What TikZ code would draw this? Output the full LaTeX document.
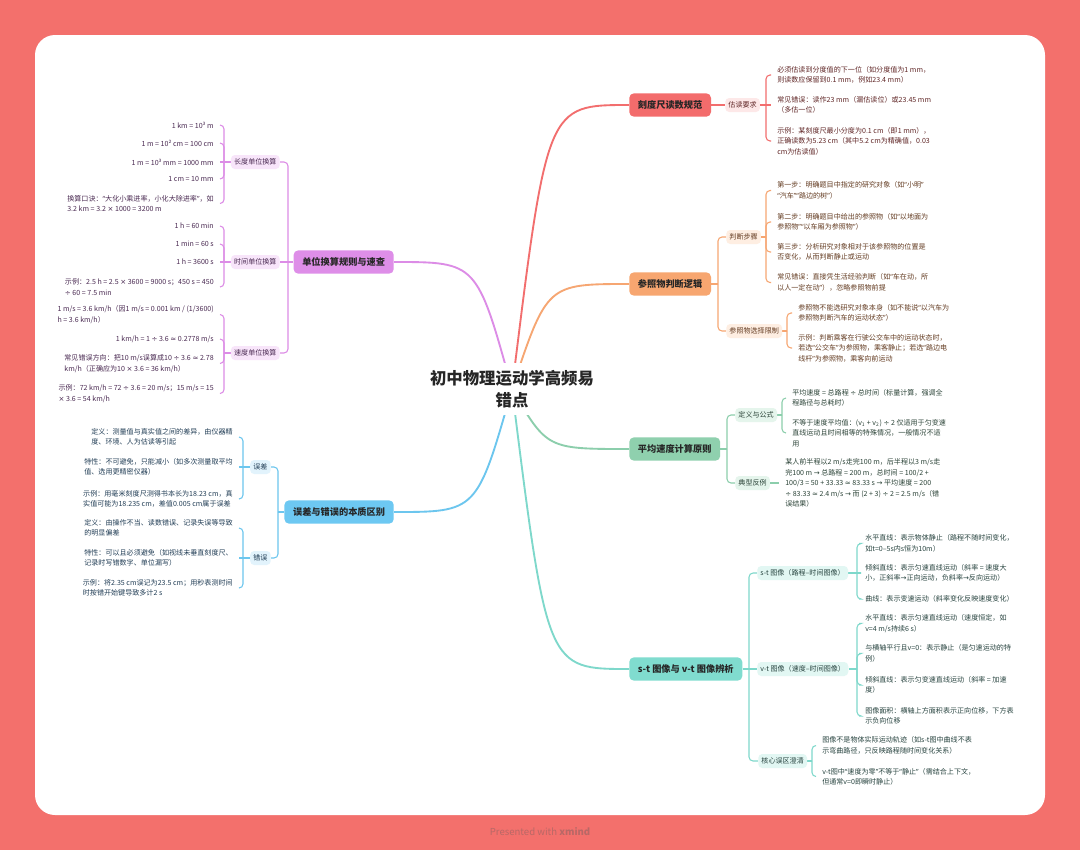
\documentclass[tikz,border=0pt]{standalone}
\usepackage{fontspec}
\setmainfont{Noto Sans CJK SC}
\newfontfamily\qfont{Noto Sans}
\newfontfamily\symf{DejaVu Sans}
\newcommand{\qo}{{\qfont “}}
\newcommand{\qc}{{\qfont ”}}
\newcommand{\sy}[1]{{\symf #1}}
\usetikzlibrary{calc}
\definecolor{bgc}{RGB}{243,112,108}
\definecolor{ftc}{RGB}{184,104,102}
\definecolor{rL}{RGB}{242,110,110}
\definecolor{rF}{RGB}{243,108,108}
\definecolor{rS}{RGB}{253,232,232}
\definecolor{rT}{RGB}{96,38,38}
\definecolor{oL}{RGB}{246,166,114}
\definecolor{oF}{RGB}{247,166,112}
\definecolor{oS}{RGB}{254,238,226}
\definecolor{oT}{RGB}{100,60,34}
\definecolor{gL}{RGB}{140,206,172}
\definecolor{gF}{RGB}{143,208,174}
\definecolor{gS}{RGB}{229,245,236}
\definecolor{gT}{RGB}{44,68,56}
\definecolor{tL}{RGB}{126,216,203}
\definecolor{tF}{RGB}{128,220,207}
\definecolor{tS}{RGB}{226,247,243}
\definecolor{tT}{RGB}{40,68,64}
\definecolor{pL}{RGB}{220,140,230}
\definecolor{pF}{RGB}{222,142,232}
\definecolor{pS}{RGB}{248,229,250}
\definecolor{pT}{RGB}{74,42,82}
\definecolor{bL}{RGB}{108,198,238}
\definecolor{bF}{RGB}{109,200,242}
\definecolor{bS}{RGB}{226,243,252}
\definecolor{bT}{RGB}{34,62,86}
\pgfdeclarelayer{card}
\pgfdeclarelayer{wires}
\pgfsetlayers{card,wires,main}
\begin{document}
\begin{tikzpicture}[x=0.75pt,y=-0.75pt,
  rootbox/.style={fill=white, inner sep=5pt, align=center, text=black!85,
    font=\bfseries\fontsize{12.3}{16.5}\selectfont},
  mainbox/.style={rounded corners=3.5pt, minimum height=17.5pt, inner xsep=6.5pt,
    inner ysep=0pt, fill=#1F, text=black!85, font=\bfseries\fontsize{6.9}{8}\selectfont},
  subb/.style={rounded corners=3pt, minimum height=10.5pt, inner xsep=2.4pt,
    inner ysep=0pt, fill=#1S, text=#1T, font=\fontsize{5.3}{6.5}\selectfont},
  leafr/.style={anchor=west, align=left, inner xsep=4.5pt, inner ysep=0pt,
    text=#1T, font=\fontsize{5.3}{7.8}\selectfont},
  leafl/.style={anchor=east, align=left, inner xsep=4.5pt, inner ysep=0pt,
    text=#1T, font=\fontsize{5.3}{7.8}\selectfont},
  trunkw/.style={draw=#1L, line width=1.4pt},
  wire/.style={draw=#1L, line width=0.8pt, rounded corners=3pt},
  footer/.style={text=ftc, font=\fontsize{7.2}{9}\selectfont}]
\useasboundingbox (0,0) rectangle (1080,850);
\begin{pgfonlayer}{card}
\fill[bgc] (0,0) rectangle (1080,850);
\fill[white, rounded corners=15pt] (35,35) rectangle (1045,815);
\end{pgfonlayer}

\node[footer] (ft) at (540,832) {Presented with \textbf{xmind}};
\node[rootbox] (root) at (512,389) {初中物理运动学高频易\\错点};

% ---------- red: 刻度尺读数规范
\node[mainbox=r, anchor=west] (kd) at (629,105) {刻度尺读数规范};
\node[subb=r, anchor=west] (kd1) at (725,105) {估读要求};
\coordinate (kdj) at (766,105);
\node[leafr=r] (kdA) at (771,75) {必须估读到分度值的下一位（如分度值为1 mm，\\则读数应保留到0.1 mm，例如23.4 mm）};
\node[leafr=r] (kdB) at (771,105) {常见错误：读作23 mm（漏估读位）或23.45 mm\\（多估一位）};
\node[leafr=r] (kdC) at (771,141) {示例：某刻度尺最小分度为0.1 cm（即1 mm），\\正确读数为5.23 cm（其中5.2 cm为精确值，0.03\\cm为估读值）};

% ---------- orange: 参照物判断逻辑
\node[mainbox=o, anchor=west] (ck) at (629,284) {参照物判断逻辑};
\coordinate (ckj) at (718,284);
\node[subb=o, anchor=west] (ck1) at (726,237) {判断步骤};
\node[subb=o, anchor=west] (ck2) at (726,331) {参照物选择限制};
\coordinate (ck1j) at (766,237);
\coordinate (ck2j) at (787,331);
\node[leafr=o] (ckA) at (771,190.5) {第一步：明确题目中指定的研究对象（如\qo 小明\qc\\\qo 汽车\qc\qo 路边的树\qc）};
\node[leafr=o] (ckB) at (771,222) {第二步：明确题目中给出的参照物（如\qo 以地面为\\参照物\qc\qo 以车厢为参照物\qc）};
\node[leafr=o] (ckC) at (771,252) {第三步：分析研究对象相对于该参照物的位置是\\否变化，从而判断静止或运动};
\node[leafr=o] (ckD) at (771,282.5) {常见错误：直接凭生活经验判断（如\qo 车在动，所\\以人一定在动\qc），忽略参照物前提};
\node[leafr=o] (ckE) at (792,313) {参照物不能选研究对象本身（如不能说\qo 以汽车为\\参照物判断汽车的运动状态\qc）};
\node[leafr=o] (ckF) at (792,348) {示例：判断乘客在行驶公交车中的运动状态时，\\若选\qo 公交车\qc 为参照物，乘客静止；若选\qo 路边电\\线杆\qc 为参照物，乘客向前运动};

% ---------- green: 平均速度计算原则
\node[mainbox=g, anchor=west] (pj) at (629,449) {平均速度计算原则};
\coordinate (pjj) at (727,449);
\node[subb=g, anchor=west] (pj1) at (735,415) {定义与公式};
\node[subb=g, anchor=west] (pj2) at (735,483) {典型反例};
\coordinate (pj1j) at (782,415);
\node[leafr=g] (pjA) at (786,398) {平均速度 = 总路程 \sy{÷} 总时间（标量计算，强调全\\程路径与总耗时）};
\node[leafr=g] (pjB) at (786,433) {不等于速度平均值：(v\textsubscript{1} + v\textsubscript{2}) \sy{÷} 2 仅适用于匀变速\\直线运动且时间相等的特殊情况，一般情况不适\\用};
\node[leafr=g] (pjC) at (779,483) {某人前半程以2 m/s走完100 m，后半程以3 m/s走\\完100 m \sy{→} 总路程 = 200 m，总时间 = 100/2 +\\100/3 = 50 + 33.33 \sy{≈} 83.33 s \sy{→} 平均速度 = 200\\\sy{÷} 83.33 \sy{≈} 2.4 m/s \sy{→} 而 (2 + 3) \sy{÷} 2 = 2.5 m/s（错\\误结果）};

% ---------- teal: s-t 图像与 v-t 图像辨析
\node[mainbox=t, anchor=west] (st) at (629,669) {s-t 图像与 v-t 图像辨析};
\coordinate (stj) at (749,669);
\node[subb=t, anchor=west] (st1) at (757,573) {s-t 图像（路程–时间图像）};
\node[subb=t, anchor=west] (st2) at (757,669) {v-t 图像（速度–时间图像）};
\node[subb=t, anchor=west] (st3) at (758,761) {核心误区澄清};
\coordinate (st1j) at (857,573);
\coordinate (st2j) at (857,669);
\coordinate (st3j) at (812,761);
\node[leafr=t] (stA) at (859,543.5) {水平直线：表示物体静止（路程不随时间变化，\\如t=0–5s内s恒为10m）};
\node[leafr=t] (stB) at (859,573) {倾斜直线：表示匀速直线运动（斜率 = 速度大\\小，正斜率\sy{→}正向运动，负斜率\sy{→}反向运动）};
\node[leafr=t] (stC) at (859,599) {曲线：表示变速运动（斜率变化反映速度变化）};
\node[leafr=t] (stD) at (859,623.5) {水平直线：表示匀速直线运动（速度恒定，如\\v=4 m/s持续6 s）};
\node[leafr=t] (stE) at (859,653.5) {与横轴平行且v=0：表示静止（是匀速运动的特\\例）};
\node[leafr=t] (stF) at (859,685) {倾斜直线：表示匀变速直线运动（斜率 = 加速\\度）};
\node[leafr=t] (stG) at (859,716) {图像面积：横轴上方面积表示正向位移，下方表\\示负向位移};
\node[leafr=t] (stH) at (816,745.5) {图像不是物体实际运动轨迹（如s-t图中曲线不表\\示弯曲路径，只反映路程随时间变化关系）};
\node[leafr=t] (stI) at (816,776.5) {v-t图中\qo 速度为零\qc 不等于\qo 静止\qc（需结合上下文，\\但通常v=0即瞬时静止）};

% ---------- purple: 单位换算规则与速查
\node[mainbox=p, anchor=east] (dw) at (394,262) {单位换算规则与速查};
\coordinate (dwj) at (288,262);
\node[subb=p, anchor=east] (dw1) at (280,162) {长度单位换算};
\node[subb=p, anchor=east] (dw2) at (280,262) {时间单位换算};
\node[subb=p, anchor=east] (dw3) at (280,353) {速度单位换算};
\coordinate (dw1j) at (224,162);
\coordinate (dw2j) at (224,262);
\coordinate (dw3j) at (224,353);
\node[leafl=p] (dwA) at (220,125) {1 km = 10³ m};
\node[leafl=p] (dwB) at (220,143) {1 m = 10² cm = 100 cm};
\node[leafl=p] (dwC) at (220,162) {1 m = 10³ mm = 1000 mm};
\node[leafl=p] (dwD) at (220,179) {1 cm = 10 mm};
\node[leafl=p] (dwE) at (220,203.5) {换算口诀：\qo 大化小乘进率，小化大除进率\qc，如\\3.2 km = 3.2 \sy{×} 1000 = 3200 m};
\node[leafl=p] (dwF) at (220,226) {1 h = 60 min};
\node[leafl=p] (dwG) at (220,244) {1 min = 60 s};
\node[leafl=p] (dwH) at (220,262) {1 h = 3600 s};
\node[leafl=p] (dwI) at (220,287) {示例：2.5 h = 2.5 \sy{×} 3600 = 9000 s；450 s = 450\\\sy{÷} 60 = 7.5 min};
\node[leafl=p] (dwJ) at (220,314.5) {1 m/s = 3.6 km/h（因1 m/s = 0.001 km / (1/3600)\\h = 3.6 km/h）};
\node[leafl=p] (dwK) at (220,339) {1 km/h = 1 \sy{÷} 3.6 \sy{≈} 0.2778 m/s};
\node[leafl=p] (dwL) at (220,363.5) {常见错误方向：把10 m/s误算成10 \sy{÷} 3.6 \sy{≈} 2.78\\km/h（正确应为10 \sy{×} 3.6 = 36 km/h）};
\node[leafl=p] (dwM) at (220,393.5) {示例：72 km/h = 72 \sy{÷} 3.6 = 20 m/s；15 m/s = 15\\\sy{×} 3.6 = 54 km/h};

% ---------- blue: 误差与错误的本质区别
\node[mainbox=b, anchor=east] (wc) at (394,512) {误差与错误的本质区别};
\coordinate (wcj) at (278,512);
\node[subb=b, anchor=east] (wc1) at (271,467) {误差};
\node[subb=b, anchor=east] (wc2) at (271,558) {错误};
\coordinate (wc1j) at (243,467);
\coordinate (wc2j) at (243,558);
\node[leafl=b] (wcA) at (239,437) {定义：测量值与真实值之间的差异，由仪器精\\度、环境、人为估读等引起};
\node[leafl=b] (wcB) at (239,467) {特性：不可避免，只能减小（如多次测量取平均\\值、选用更精密仪器）};
\node[leafl=b] (wcC) at (239,499) {示例：用毫米刻度尺测得书本长为18.23 cm，真\\实值可能为18.235 cm，差值0.005 cm属于误差};
\node[leafl=b] (wcD) at (239,528) {定义：由操作不当、读数错误、记录失误等导致\\的明显偏差};
\node[leafl=b] (wcE) at (239,558) {特性：可以且必须避免（如视线未垂直刻度尺、\\记录时写错数字、单位漏写）};
\node[leafl=b] (wcF) at (239,588) {示例：将2.35 cm误记为23.5 cm；用秒表测时间\\时按错开始键导致多计2 s};

\begin{pgfonlayer}{wires}
% root to main branches
\draw[trunkw=r] (root.center) .. controls (547,105) .. (kd.west);
\draw[trunkw=o] (root.center) .. controls (547,284) .. (ck.west);
\draw[trunkw=g] (root.center) .. controls (547,449) .. (pj.west);
\draw[trunkw=t] (root.center) .. controls (547,669) .. (st.west);
\draw[trunkw=p] (root.center) .. controls (477,262) .. (dw.east);
\draw[trunkw=b] (root.center) .. controls (477,512) .. (wc.east);
% red
\draw[wire=r] (kd.east) -- (kd1.west);
\draw[wire=r] (kd1.east) -- (kdj) -- (kdB.west);
\draw[wire=r] (kdj) |- (kdA.west);
\draw[wire=r] (kdj) |- (kdC.west);
% orange
\draw[wire=o] (ck.east) -- (ckj);
\draw[wire=o] (ckj) |- (ck1.west);
\draw[wire=o] (ckj) |- (ck2.west);
\draw[wire=o] (ck1.east) -- (ck1j);
\draw[wire=o] (ck1j) |- (ckA.west);
\draw[wire=o] (ck1j) |- (ckB.west);
\draw[wire=o] (ck1j) |- (ckC.west);
\draw[wire=o] (ck1j) |- (ckD.west);
\draw[wire=o] (ck2.east) -- (ck2j);
\draw[wire=o] (ck2j) |- (ckE.west);
\draw[wire=o] (ck2j) |- (ckF.west);
% green
\draw[wire=g] (pj.east) -- (pjj);
\draw[wire=g] (pjj) |- (pj1.west);
\draw[wire=g] (pjj) |- (pj2.west);
\draw[wire=g] (pj1.east) -- (pj1j);
\draw[wire=g] (pj1j) |- (pjA.west);
\draw[wire=g] (pj1j) |- (pjB.west);
\draw[wire=g] (pj2.east) -- (pjC.west);
% teal
\draw[wire=t] (st.east) -- (stj) -- (st2.west);
\draw[wire=t] (stj) |- (st1.west);
\draw[wire=t] (stj) |- (st3.west);
\draw[wire=t] (st1.east) -- (st1j) -- (stB.west);
\draw[wire=t] (st1j) |- (stA.west);
\draw[wire=t] (st1j) |- (stC.west);
\draw[wire=t] (st2.east) -- (st2j);
\draw[wire=t] (st2j) |- (stD.west);
\draw[wire=t] (st2j) |- (stE.west);
\draw[wire=t] (st2j) |- (stF.west);
\draw[wire=t] (st2j) |- (stG.west);
\draw[wire=t] (st3.east) -- (st3j);
\draw[wire=t] (st3j) |- (stH.west);
\draw[wire=t] (st3j) |- (stI.west);
% purple
\draw[wire=p] (dw.west) -- (dwj) -- (dw2.east);
\draw[wire=p] (dwj) |- (dw1.east);
\draw[wire=p] (dwj) |- (dw3.east);
\draw[wire=p] (dw1.west) -- (dw1j) -- (dwC.east);
\draw[wire=p] (dw1j) |- (dwA.east);
\draw[wire=p] (dw1j) |- (dwB.east);
\draw[wire=p] (dw1j) |- (dwD.east);
\draw[wire=p] (dw1j) |- (dwE.east);
\draw[wire=p] (dw2.west) -- (dw2j) -- (dwH.east);
\draw[wire=p] (dw2j) |- (dwF.east);
\draw[wire=p] (dw2j) |- (dwG.east);
\draw[wire=p] (dw2j) |- (dwI.east);
\draw[wire=p] (dw3.west) -- (dw3j);
\draw[wire=p] (dw3j) |- (dwJ.east);
\draw[wire=p] (dw3j) |- (dwK.east);
\draw[wire=p] (dw3j) |- (dwL.east);
\draw[wire=p] (dw3j) |- (dwM.east);
% blue
\draw[wire=b] (wc.west) -- (wcj);
\draw[wire=b] (wcj) |- (wc1.east);
\draw[wire=b] (wcj) |- (wc2.east);
\draw[wire=b] (wc1.west) -- (wc1j) -- (wcB.east);
\draw[wire=b] (wc1j) |- (wcA.east);
\draw[wire=b] (wc1j) |- (wcC.east);
\draw[wire=b] (wc2.west) -- (wc2j) -- (wcE.east);
\draw[wire=b] (wc2j) |- (wcD.east);
\draw[wire=b] (wc2j) |- (wcF.east);
\end{pgfonlayer}
\end{tikzpicture}
\end{document}
